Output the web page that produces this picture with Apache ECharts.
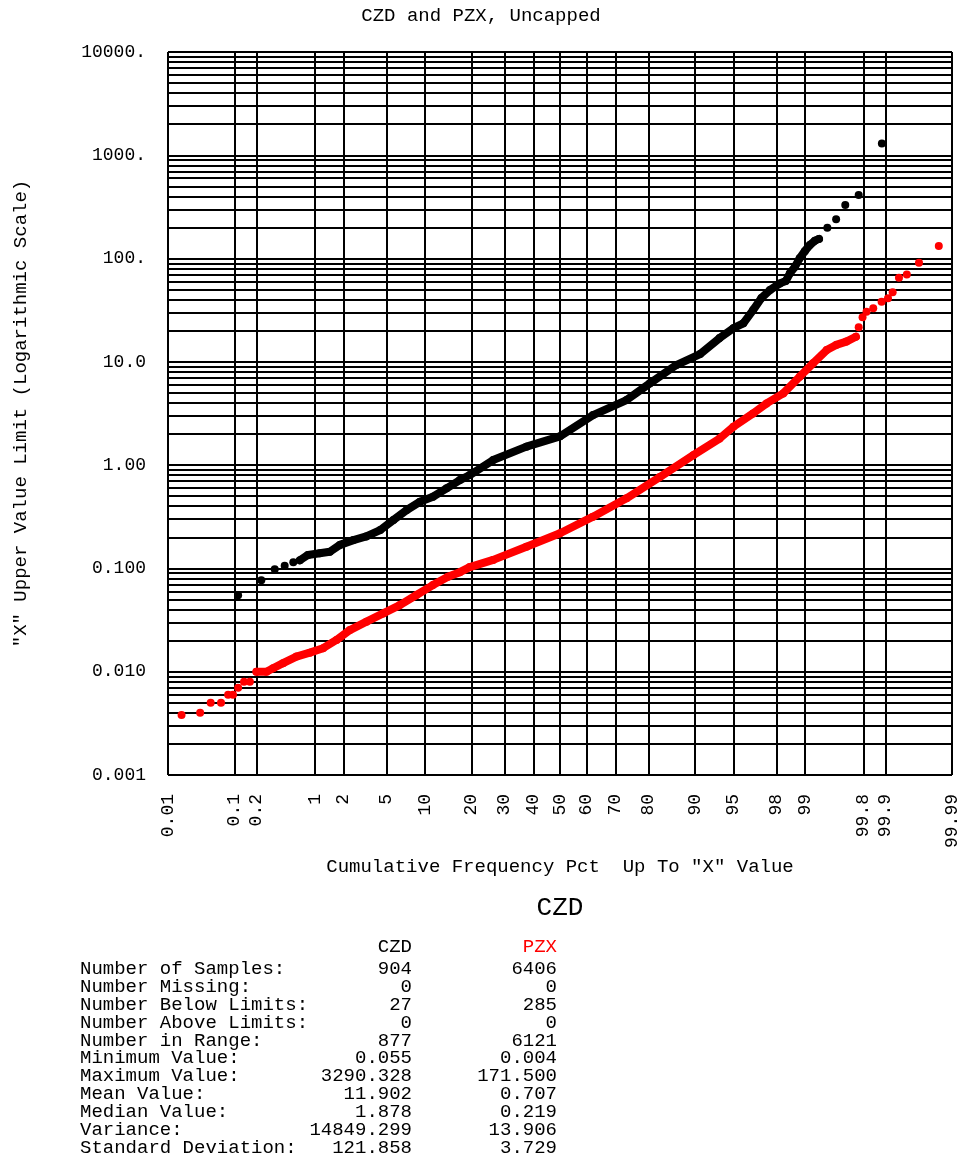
<!DOCTYPE html>
<html>
<head>
<meta charset="utf-8">
<script src="https://cdn.jsdelivr.net/npm/echarts@6/dist/echarts.min.js"></script>
<style>
  html, body { margin: 0; background: #fff; }
  #chart { width: 962px; height: 1160px; }
</style>
</head>
<body>
<div id="chart"></div>
<script>
// cumulative frequency pct / upper value
var czdPct = [0.113, 0.23, 0.34, 0.45, 0.57, 0.68, 0.84, 1.13, 1.45, 1.84, 2.5, 3.3, 4.4, 5.7, 7.3,
  9.2, 11.4, 14.1, 17.1, 19.6, 26.3, 37.5, 50, 62.3, 73.6, 80.3, 86.5, 90.8, 93.5, 95.0,
  95.9, 96.65, 97.2, 97.68, 98.15, 98.39, 98.54, 98.71, 98.85, 98.99, 99.11, 99.22, 99.30, 99.44, 99.56,
  99.66, 99.77, 99.887]
var czdVal = [0.055, 0.077, 0.098, 0.106, 0.115, 0.120, 0.135, 0.140, 0.145, 0.169, 0.188, 0.204, 0.235, 0.294, 0.368,
  0.442, 0.494, 0.596, 0.717, 0.802, 1.12, 1.51, 1.9, 3.05, 4.27, 6.19, 9.31, 11.9, 17.0, 21.2,
  23.6, 31.7, 41.5, 49.5, 57.5, 60.6, 71.9, 83.4, 100.5, 118, 135, 149, 155, 199, 240,
  330, 412, 1303]

var pzxPct = [0.0165, 0.032, 0.046, 0.065, 0.082, 0.096, 0.113, 0.136, 0.163, 0.199, 0.268, 0.324, 0.43, 0.62, 0.88,
  1.23, 1.70, 2.31, 3.32, 4.67, 6.43, 8.67, 11.4, 14.4, 17.1, 19.6, 26.3, 37.5, 50, 62.3,
  73.6, 82.8, 89.7, 93.5, 95.0, 96.65, 97.5, 98.29, 98.85, 99.18, 99.43, 99.56, 99.67, 99.75, 99.77,
  99.795, 99.818, 99.852, 99.886, 99.907, 99.920, 99.935, 99.950, 99.967, 99.9837]
var pzxVal = [0.0038, 0.004, 0.005, 0.005, 0.006, 0.006, 0.007, 0.008, 0.008, 0.010, 0.010, 0.0108, 0.0121, 0.0140, 0.0153,
  0.0169, 0.0203, 0.0253, 0.0305, 0.0367, 0.0442, 0.0553, 0.069, 0.083, 0.092, 0.103, 0.121, 0.162, 0.219, 0.317,
  0.477, 0.767, 1.25, 1.81, 2.35, 3.17, 3.96, 4.95, 7.17, 9.68, 13.0, 14.6, 15.7, 17.5, 21.6,
  27.0, 30.5, 33.0, 38.2, 41.2, 47.1, 65.2, 70.3, 91.0, 132]

// where the points run together into a band
var czdDense = [5, 42]
var pzxDense = [9, 43]

var pctTicks = [0.01, 0.1, 0.2, 1, 2, 5, 10, 20, 30, 40, 50, 60, 70, 80, 90, 95, 98, 99, 99.8, 99.9, 99.99]
var valTicks = [0.001, 0.01, 0.1, 1, 10, 100, 1000, 10000]
var valLabels = ['0.001', '0.010', '0.100', '1.00', '10.0', '100.', '1000.', '10000.']

var statNames = ['Number of Samples:', 'Number Missing:', 'Number Below Limits:', 'Number Above Limits:',
  'Number in Range:', 'Minimum Value:', 'Maximum Value:', 'Mean Value:', 'Median Value:', 'Variance:',
  'Standard Deviation:']
var czdStats = ['904', '0', '27', '0', '877', '0.055', '3290.328', '11.902', '1.878', '14849.299', '121.858']
var pzxStats = ['6406', '0', '285', '0', '6121', '0.004', '171.500', '0.707', '0.219', '13.906', '3.729']

var mono = '"Liberation Mono", "Courier New", monospace'

// inverse normal cdf (Acklam), used for the probability scale
function probit(p) {
  var a = [-3.969683028665376e+01, 2.209460984245205e+02, -2.759285104469687e+02, 1.383577518672690e+02, -3.066479806614716e+01, 2.506628277459239e+00]
  var b = [-5.447609879822406e+01, 1.615858368580409e+02, -1.556989798598866e+02, 6.680131188771972e+01, -1.328068155288572e+01]
  var c = [-7.784894002430293e-03, -3.223964580411365e-01, -2.400758277161838e+00, -2.549732539343734e+00, 4.374664141464968e+00, 2.938163982698783e+00]
  var d = [7.784695709041462e-03, 3.224671290700398e-01, 2.445134137142996e+00, 3.754408661907416e+00]
  var pl = 0.02425, q, r
  if (p < pl) {
    q = Math.sqrt(-2 * Math.log(p))
    return (((((c[0]*q+c[1])*q+c[2])*q+c[3])*q+c[4])*q+c[5]) / ((((d[0]*q+d[1])*q+d[2])*q+d[3])*q+1)
  }
  if (p > 1 - pl) {
    q = Math.sqrt(-2 * Math.log(1 - p))
    return -(((((c[0]*q+c[1])*q+c[2])*q+c[3])*q+c[4])*q+c[5]) / ((((d[0]*q+d[1])*q+d[2])*q+d[3])*q+1)
  }
  q = p - 0.5; r = q * q
  return (((((a[0]*r+a[1])*r+a[2])*r+a[3])*r+a[4])*r+a[5])*q / (((((b[0]*r+b[1])*r+b[2])*r+b[3])*r+b[4])*r+1)
}

function toPts(pct, val) {
  var out = []
  for (var i = 0; i < pct.length; i++) out.push([probit(pct[i] / 100), Math.log10(val[i])])
  return out
}

var czdPts = toPts(czdPct, czdVal)
var pzxPts = toPts(pzxPct, pzxVal)

var xTickVals = pctTicks.map(function (p) { return probit(p / 100) })
var yLabelVals = valTicks.map(function (v) { return Math.log10(v) })
var yGridVals = []
for (var e = -3; e < 4; e++) {
  for (var k = 1; k <= 9; k++) yGridVals.push(Math.log10(k) + e)
}
yGridVals.push(4)

var chart = echarts.init(document.getElementById('chart'))

chart.setOption({
  animation: false,
  backgroundColor: '#fff',
  title: {
    text: 'CZD and PZX, Uncapped',
    left: 'center',
    top: 1,
    textStyle: { fontFamily: mono, fontSize: 19, fontWeight: 'normal', color: '#000' }
  },
  grid: { left: 168, right: 10, top: 52, bottom: 385, outerBoundsMode: 'none', containLabel: false },
  xAxis: {
    type: 'value',
    min: probit(0.0001),
    max: probit(0.9999),
    name: 'Cumulative Frequency Pct  Up To "X" Value',
    nameLocation: 'middle',
    nameGap: 82,
    nameTextStyle: { fontFamily: mono, fontSize: 19, color: '#000' },
    axisLine: { show: true, lineStyle: { color: '#000', width: 2 } },
    axisTick: { show: true, length: 13, customValues: xTickVals, lineStyle: { color: '#000', width: 2 } },
    axisLabel: {
      customValues: xTickVals,
      rotate: 90,
      margin: 19,
      fontFamily: mono,
      fontSize: 18,
      color: '#000',
      formatter: function (v) {
        for (var i = 0; i < xTickVals.length; i++) {
          if (Math.abs(xTickVals[i] - v) < 1e-6) return String(pctTicks[i])
        }
        return ''
      }
    },
    splitLine: { show: true, lineStyle: { color: '#000', width: 2 } }
  },
  yAxis: {
    type: 'value',
    min: -3,
    max: 4,
    name: '"X" Upper Value Limit (Logarithmic Scale)',
    nameLocation: 'middle',
    nameGap: 138,
    nameTextStyle: { fontFamily: mono, fontSize: 19, color: '#000' },
    axisLine: { show: true, lineStyle: { color: '#000', width: 2 } },
    axisTick: { show: true, length: 13, customValues: yGridVals, lineStyle: { color: '#000', width: 2 } },
    axisLabel: {
      customValues: yLabelVals,
      margin: 22,
      fontFamily: mono,
      fontSize: 18,
      color: '#000',
      formatter: function (v) {
        for (var i = 0; i < yLabelVals.length; i++) {
          if (Math.abs(yLabelVals[i] - v) < 1e-6) return valLabels[i]
        }
        return ''
      }
    },
    splitLine: { show: true, lineStyle: { color: '#000', width: 2 } }
  },
  series: [
    {
      type: 'line',
      data: czdPts.slice(czdDense[0], czdDense[1] + 1),
      symbol: 'none',
      silent: true,
      lineStyle: { color: '#000', width: 8, cap: 'round', join: 'round' }
    },
    {
      type: 'scatter',
      data: czdPts,
      symbolSize: 8,
      itemStyle: { color: '#000', opacity: 1 }
    },
    {
      type: 'line',
      data: pzxPts.slice(pzxDense[0], pzxDense[1] + 1),
      symbol: 'none',
      silent: true,
      lineStyle: { color: '#ff0000', width: 8, cap: 'round', join: 'round' }
    },
    {
      type: 'scatter',
      data: pzxPts,
      symbolSize: 8,
      itemStyle: { color: '#ff0000', opacity: 1 }
    }
  ],
  graphic: [
    {
      type: 'text',
      style: { text: 'CZD', x: 560, y: 908, align: 'center', verticalAlign: 'middle',
        fontFamily: mono, fontSize: 26, fill: '#000' }
    },
    {
      type: 'text',
      style: { text: 'CZD', x: 412, y: 947, align: 'right', verticalAlign: 'middle',
        fontFamily: mono, fontSize: 19, fill: '#000' }
    },
    {
      type: 'text',
      style: { text: 'PZX', x: 557, y: 947, align: 'right', verticalAlign: 'middle',
        fontFamily: mono, fontSize: 19, fill: '#ff0000' }
    },
    {
      type: 'text',
      style: { text: statNames.join('\n'), x: 80, y: 960, align: 'left', verticalAlign: 'top',
        fontFamily: mono, fontSize: 19, lineHeight: 17.9, fill: '#000' }
    },
    {
      type: 'text',
      style: { text: czdStats.join('\n'), x: 412, y: 960, align: 'right', verticalAlign: 'top',
        fontFamily: mono, fontSize: 19, lineHeight: 17.9, fill: '#000' }
    },
    {
      type: 'text',
      style: { text: pzxStats.join('\n'), x: 557, y: 960, align: 'right', verticalAlign: 'top',
        fontFamily: mono, fontSize: 19, lineHeight: 17.9, fill: '#000' }
    }
  ]
})
</script>
</body>
</html>
